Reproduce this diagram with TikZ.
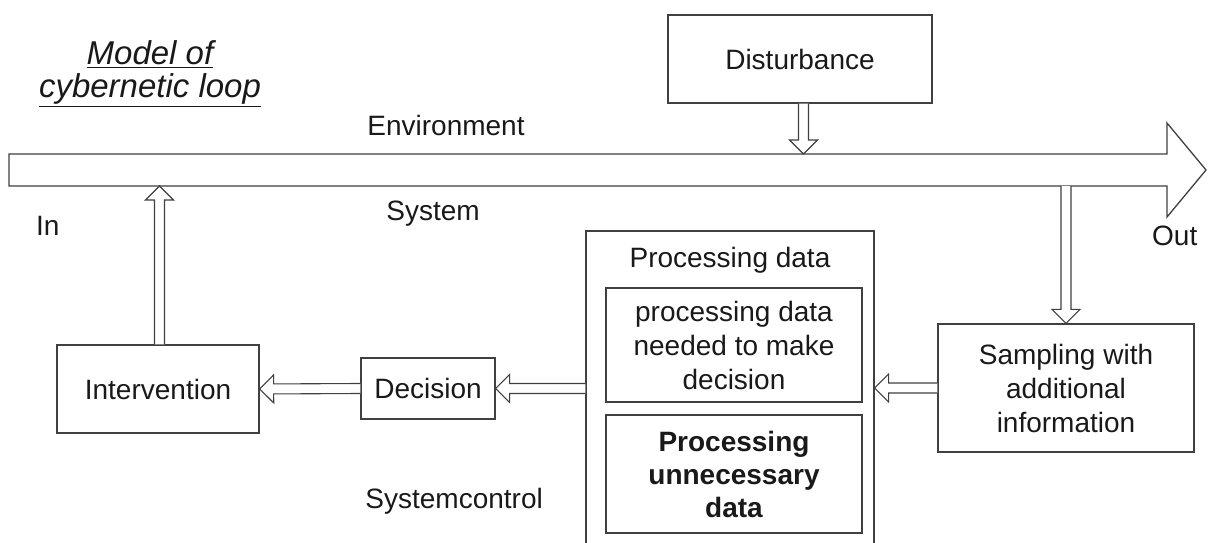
\documentclass[tikz,border=0pt]{standalone}
\usepackage{fontspec}
\setmainfont{Liberation Sans}
\usetikzlibrary{calc}
\newcommand{\hollowarrow}[2]{%
  \coordinate (hb) at ($(#2)!14pt!(#1)$);
  \draw[conn] ($(#1)!5pt!90:(#2)$) -- ($(hb)!5pt!90:(#2)$) -- ($(hb)!14pt!90:(#2)$) -- (#2)
    -- ($(hb)!14pt!-90:(#2)$) -- ($(hb)!5pt!-90:(#2)$) -- ($(#1)!5pt!-90:(#2)$);
}
\begin{document}
\begin{tikzpicture}[x=1pt,y=-1pt,
  box/.style={draw=black!75, line width=1.3pt, inner sep=0pt, align=center, text=black!90, font={\fontsize{28}{34}\selectfont}},
  lbl/.style={inner sep=0pt, text=black!90, font={\fontsize{28}{34}\selectfont}},
  ttl/.style={inner sep=0pt, text=black!90, font={\fontsize{33}{40}\selectfont\itshape}},
  conn/.style={draw=black!75, line width=1.1pt, fill=white, line join=miter},
  flowstyle/.style={draw=black!75, line width=1.3pt, fill=white, line join=miter}]
\useasboundingbox (0,0) rectangle (1208,543);
\clip (0,0) rectangle (1208,543);
% title
\node[ttl, anchor=base] (t1) at (150,65) {\underline{Model of}};
\node[ttl, anchor=base] (t2) at (150,98) {\underline{cybernetic loop}};
% disturbance
\node[box, minimum width=264, minimum height=88] (dist) at (800,59) {Disturbance};
% main flow arrow
\draw[flowstyle] (9,154) -- (1167,154) -- (1167,123) -- (1206,170) -- (1167,217) -- (1167,186) -- (9,186) -- cycle;
\coordinate (flowtop) at (0,154);
\coordinate (flowbot) at (0,186);
% labels
\node[lbl, anchor=base] (env) at (446,135) {Environment};
\node[lbl, anchor=base] (sys) at (433,220) {System};
\node[lbl, anchor=base west] (in) at (36,235) {In};
\node[lbl, anchor=base west] (out) at (1152,245) {Out};
\node[lbl, anchor=base east] (sc) at (543,508) {Systemcontrol};
% boxes
\node[box, minimum width=202, minimum height=88] (inter) at (158,389) {Intervention};
\node[box, minimum width=134, minimum height=61] (dec) at (428,388.5) {Decision};
\node[box, minimum width=288, minimum height=329] (proc) at (730,395.5) {};
\node[lbl, anchor=base] (proct) at (730,267) {Processing data};
\node[box, minimum width=256, minimum height=114] (need) at (734,345) {processing data\\needed to make\\decision};
\node[box, minimum width=256, minimum height=118, font={\fontsize{28}{33}\selectfont\bfseries}] (unnec) at (734,474) {Processing\\unnecessary\\data};
\node[box, minimum width=256, minimum height=128] (samp) at (1066,388) {Sampling with\\additional\\information};
% connectors
\coordinate (a1s) at ($(dist.south)+(3.5,0)$);
\coordinate (a1t) at (a1s |- flowtop);
\hollowarrow{a1s}{a1t}
\coordinate (a2s) at (samp.north |- flowbot);
\hollowarrow{a2s}{samp.north}
\coordinate (a3t) at (proc.east |- samp.west);
\hollowarrow{samp.west}{a3t}
\coordinate (a4s) at (proc.west |- dec.east);
\hollowarrow{a4s}{dec.east}
\hollowarrow{dec.west}{inter.east}
\coordinate (a6s) at ($(inter.north)+(1.5,0)$);
\coordinate (a6t) at (a6s |- flowbot);
\hollowarrow{a6s}{a6t}
\end{tikzpicture}
\end{document}
